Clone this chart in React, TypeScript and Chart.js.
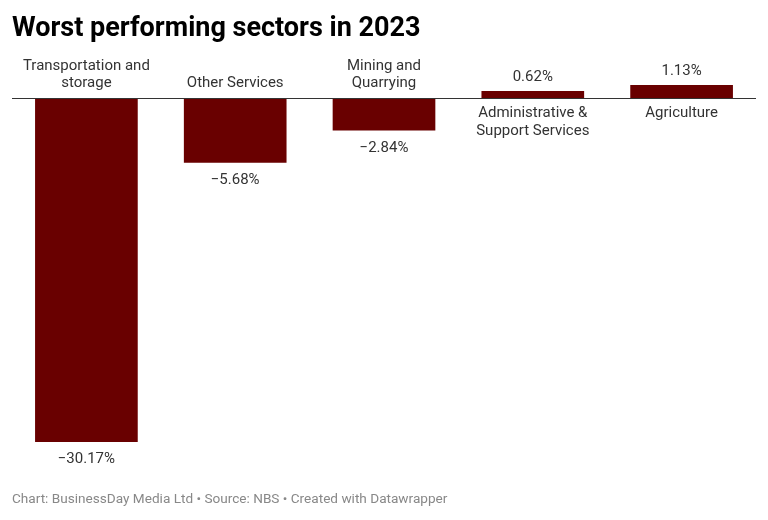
import React, { useEffect, useRef } from "react";
import { Chart, registerables } from "chart.js";

Chart.register(...registerables);

const categories: string[][] = [
  ["Transportation and", "storage"],
  ["Other Services"],
  ["Mining and", "Quarrying"],
  ["Administrative &", "Support Services"],
  ["Agriculture"],
];
const values: number[] = [-30.17, -5.68, -2.84, 0.62, 1.13];
const valueLabels: string[] = ["−30.17%", "−5.68%", "−2.84%", "0.62%", "1.13%"];

const TITLE = "Worst performing sectors in 2023";
const FOOTER = "Chart: BusinessDay Media Ltd • Source: NBS • Created with Datawrapper";

export default function App() {
  const ref = useRef<HTMLCanvasElement | null>(null);

  useEffect(() => {
    document.body.style.margin = "0";
    const canvas = ref.current;
    if (!canvas) return;

    const labelPlugin = {
      id: "labelPlugin",
      afterDatasetsDraw(chart: any) {
        const ctx = chart.ctx;
        const area = chart.chartArea;
        const y = chart.scales.y;
        const meta = chart.getDatasetMeta(0);
        const zeroY = y.getPixelForValue(0);
        ctx.save();
        // zero line
        ctx.strokeStyle = "#333333";
        ctx.lineWidth = 1;
        ctx.beginPath();
        ctx.moveTo(area.left, Math.round(zeroY) + 0.5);
        ctx.lineTo(area.right, Math.round(zeroY) + 0.5);
        ctx.stroke();

        ctx.font = "15px Roboto";
        ctx.fillStyle = "#333333";
        ctx.textAlign = "center";
        ctx.textBaseline = "middle";
        const lh = 17.5;
        meta.data.forEach((bar: any, i: number) => {
          const x = bar.x;
          const v = values[i];
          const lines = categories[i];
          if (v < 0) {
            const lastY = zeroY - 14.5;
            lines.forEach((ln, k) => {
              ctx.fillText(ln, x, lastY - (lines.length - 1 - k) * lh);
            });
            ctx.fillText(valueLabels[i], x, bar.y + 17.5);
          } else {
            const firstY = zeroY + 15.5;
            lines.forEach((ln, k) => {
              ctx.fillText(ln, x, firstY + k * lh);
            });
            ctx.fillText(valueLabels[i], x, bar.y - 14);
          }
        });

        // title
        ctx.textAlign = "left";
        ctx.textBaseline = "alphabetic";
        ctx.fillStyle = "#000000";
        ctx.font = "bold 27px Roboto";
        ctx.fillText(TITLE, 12, 36);
        // footer
        ctx.fillStyle = "#888888";
        ctx.font = "13.6px Roboto";
        ctx.fillText(FOOTER, 12, 503);
        ctx.restore();
      },
    };

    const chart = new Chart(canvas, {
      type: "bar",
      data: {
        labels: categories.map((c) => c.join(" ")),
        datasets: [
          {
            data: values,
            backgroundColor: "#690000",
            borderWidth: 0,
            barPercentage: 0.69,
            categoryPercentage: 1,
          },
        ],
      },
      options: {
        animation: false,
        responsive: false,
        maintainAspectRatio: false,
        layout: { padding: { left: 12, right: 12, top: 52.4, bottom: 57.2 } },
        plugins: {
          legend: { display: false },
          tooltip: { enabled: false },
          title: { display: false },
        },
        scales: {
          x: { display: false, grid: { display: false } },
          y: { display: false, min: -32, max: 4, grid: { display: false } },
        },
      },
      plugins: [labelPlugin],
    });
    return () => chart.destroy();
  }, []);

  return (
    <div style={{ width: 768, height: 520, background: "#fff" }}>
      <canvas ref={ref} width={768} height={520} style={{ display: "block" }} />
    </div>
  );
}
